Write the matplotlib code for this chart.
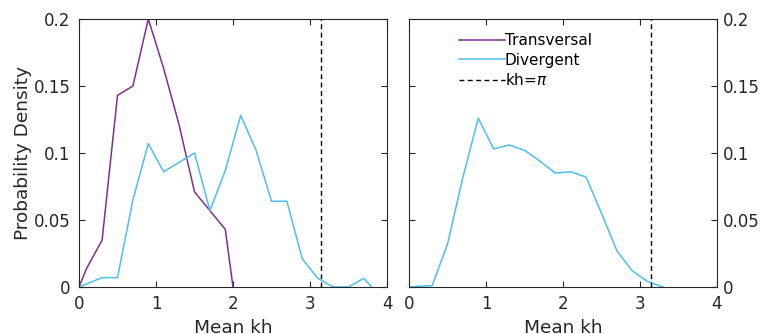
import numpy as np
import matplotlib
matplotlib.use("Agg")
import matplotlib.pyplot as plt

# Histogram densities of mean kh (bin centres on the x axis)
kh_trans_left  = [0.0, 0.1, 0.3, 0.5, 0.7, 0.9, 1.1, 1.3, 1.5, 1.7, 1.9, 2.0]
pd_trans_left  = [0.0, 0.014, 0.035, 0.143, 0.150, 0.200, 0.163, 0.121, 0.071, 0.057, 0.043, 0.0]

kh_div_left    = [0.0, 0.3, 0.5, 0.7, 0.9, 1.1, 1.3, 1.5, 1.7, 1.9, 2.1, 2.3,
                  2.5, 2.7, 2.9, 3.1, 3.3, 3.5, 3.7, 3.8]
pd_div_left    = [0.0, 0.007, 0.007, 0.065, 0.107, 0.086, 0.093, 0.100, 0.057, 0.087, 0.128, 0.102,
                  0.064, 0.064, 0.021, 0.0065, 0.0, 0.0, 0.0065, 0.0]

kh_div_right   = [0.0, 0.1, 0.3, 0.5, 0.7, 0.9, 1.1, 1.3, 1.5, 1.7, 1.9, 2.1,
                  2.3, 2.5, 2.7, 2.9, 3.1, 3.3]
pd_div_right   = [0.0, 0.0005, 0.001, 0.032, 0.082, 0.126, 0.103, 0.106, 0.102, 0.094, 0.085, 0.086,
                  0.082, 0.055, 0.027, 0.012, 0.004, 0.0]

C_TRANS = "#7E2F8E"
C_DIV = "#4DBEEE"
AX_COL = "#262626"
LW = 1.1

plt.rcParams["font.family"] = "DejaVu Sans"
plt.rcParams["font.size"] = 12

fig = plt.figure(figsize=(7.61, 3.34), dpi=100)
ax1 = fig.add_axes([79 / 761, 47 / 334, 308 / 761, 268 / 334])
ax2 = fig.add_axes([409 / 761, 47 / 334, 308 / 761, 268 / 334])

ax1.plot(kh_trans_left, pd_trans_left, color=C_TRANS, lw=LW)
ax1.plot(kh_div_left, pd_div_left, color=C_DIV, lw=LW)
ax1.axvline(np.pi, color="k", ls="--", lw=1.0, dashes=(3.5, 2.5))

ax2.plot([], [], color=C_TRANS, lw=LW, label="Transversal")
ax2.plot(kh_div_right, pd_div_right, color=C_DIV, lw=LW, label="Divergent")
ax2.axvline(np.pi, color="k", ls="--", lw=1.0, dashes=(3.5, 2.5), label=r"kh=$\pi$")

yticks = [0, 0.05, 0.1, 0.15, 0.2]
ylabels = ["0", "0.05", "0.1", "0.15", "0.2"]
for ax in (ax1, ax2):
    ax.set_xlim(0, 4)
    ax.set_ylim(0, 0.2)
    ax.set_xticks([0, 1, 2, 3, 4])
    ax.set_yticks(yticks)
    ax.set_yticklabels(ylabels)
    ax.tick_params(direction="in", length=4, width=0.8, colors=AX_COL,
                   top=True, right=True, labelsize=12)
    ax.tick_params(axis="x", pad=6)
    for s in ax.spines.values():
        s.set_color(AX_COL)
        s.set_linewidth(0.8)
    ax.set_xlabel("Mean kh", color=AX_COL, fontsize=13.3, labelpad=4)

ax1.tick_params(axis="y", pad=6)
ax1.set_ylabel("Probability Density", color=AX_COL, fontsize=13.3, labelpad=1)
ax2.tick_params(axis="y", left=True, right=True, labelleft=False, labelright=True, pad=4)

ax2.legend(loc="upper left", bbox_to_anchor=(0.162, 0.948), frameon=False,
           fontsize=11, handlelength=3.0, handletextpad=0.0, labelspacing=0.3,
           borderpad=0.0, borderaxespad=0.0)

fig.savefig("out.png", dpi=100)
